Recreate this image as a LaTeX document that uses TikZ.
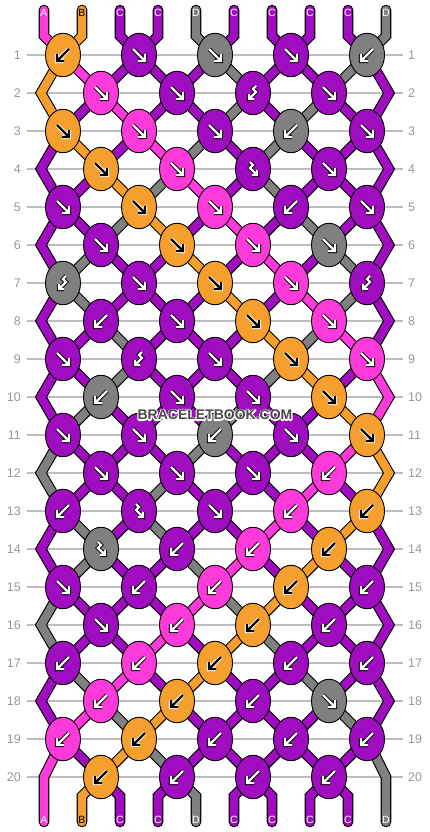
\documentclass[tikz,border=0pt]{standalone}
\usepackage{fontspec}
\setmainfont{Liberation Sans}
\usetikzlibrary{shapes.geometric}
\definecolor{colA}{HTML}{FF3ADB}
\definecolor{colB}{HTML}{F5A02E}
\definecolor{colC}{HTML}{A00CC0}
\definecolor{colD}{HTML}{808080}
\colorlet{arrinA}{white}\colorlet{arroutA}{black}
\colorlet{arrinB}{black}\colorlet{arroutB}{white}
\colorlet{arrinC}{white}\colorlet{arroutC}{black}
\colorlet{arrinD}{white}\colorlet{arroutD}{black}
\colorlet{lblA}{white}\colorlet{lblB}{black}\colorlet{lblC}{white}\colorlet{lblD}{white}
\definecolor{gridgray}{HTML}{BEBEBE}
\definecolor{numgray}{HTML}{999999}
\definecolor{wmgray}{HTML}{4A4A4A}
\colorlet{ain}{white}\colorlet{aout}{black}
\pgfdeclarelayer{grid}\pgfdeclarelayer{lo}\pgfdeclarelayer{hi}
\pgfsetlayers{grid,lo,hi,main}
\newcommand\seg[3][]{%
  \begin{pgfonlayer}{lo}\draw[strout,#1] #3;\end{pgfonlayer}%
  \begin{pgfonlayer}{hi}\draw[strin,draw=col#2,#1] #3;\end{pgfonlayer}}
\newcommand\arrowpath[2]{%
  \draw[aout, line width=4.2pt, line cap=square, line join=miter] #1 #2;
  \draw[ain, line width=2.4pt, line cap=square, line join=miter] #1 #2;}
\newcommand\halotext[1]{%
  \rlap{\special{pdf:literal direct 1 Tr 2.4 w 1 1 1 RG 1 j}#1\special{pdf:literal direct 0 Tr}}#1}
\tikzset{
  strout/.style={line width=10.6pt, draw=black, line join=miter, miter limit=6},
  strin/.style={line width=8.4pt, line join=miter, miter limit=6},
  knot/.style={ellipse, draw=black, line width=0.9pt, minimum width=35pt, minimum height=43.5pt, inner sep=0pt},
  gridline/.style={draw=gridgray, line width=1.3pt},
  rownum/.style={text=numgray, font=\fontsize{12.5}{14}\selectfont, inner sep=0pt},
  strlabel/.style={font=\fontsize{10.5}{12}\selectfont, inner sep=0pt},
  wmtext/.style={font=\bfseries\fontsize{14}{16}\selectfont, inner sep=0pt},
  pics/af/.style={code={\arrowpath{(-6,-6) -- (5,5)}{(6,-1) -- (6,6) -- (-1,6)}}},
  pics/ab/.style={code={\arrowpath{(6,-6) -- (-5,5)}{(-6,-1) -- (-6,6) -- (1,6)}}},
  pics/afb/.style={code={\arrowpath{(-3,-7) -- (0,-4) -- (-3,-1) -- (3,5)}{(4,1) -- (4,6) -- (-1,6)}}},
  pics/abf/.style={code={\arrowpath{(3,-7) -- (0,-4) -- (3,-1) -- (-3,5)}{(-4,1) -- (-4,6) -- (1,6)}}},
}
\begin{document}
\begin{tikzpicture}[x=1pt,y=-1pt]
\useasboundingbox (0,0) rectangle (430,832);
\begin{pgfonlayer}{grid}
  \fill[white] (0,0) rectangle (430,832);
  \foreach \rw in {1,...,20}{
    \pgfmathsetmacro\yy{55+38*(\rw-1)}
    \draw[gridline] (27,\yy) -- (403,\yy);
    \node[rownum, anchor=east] (nl\rw) at (21,\yy) {\rw};
    \node[rownum, anchor=west] (nr\rw) at (408,\yy) {\rw};
  }
\end{pgfonlayer}
% knots
\foreach \rw/\ks in {
  1/{b/B,f/C,f/D,f/C,b/D},
  2/{f/A,f/C,bf/C,f/C},
  3/{f/B,f/A,f/C,b/D,f/C},
  4/{f/B,f/A,fb/C,f/C},
  5/{f/C,f/B,f/A,b/C,f/C},
  6/{f/C,f/B,f/A,f/D},
  7/{bf/D,f/C,f/B,f/A,bf/C},
  8/{b/C,f/C,f/B,f/A},
  9/{f/C,bf/C,f/C,f/B,f/A},
  10/{b/D,f/C,f/C,f/B},
  11/{f/C,f/C,b/D,f/C,f/B},
  12/{f/C,f/C,f/C,b/A},
  13/{b/C,fb/C,f/C,b/A,b/B},
  14/{fb/D,b/C,b/A,b/B},
  15/{f/C,b/C,b/A,b/B,b/C},
  16/{f/C,b/A,b/B,b/C},
  17/{b/C,b/A,b/B,b/C,b/C},
  18/{b/A,b/B,b/C,f/D},
  19/{b/A,b/B,b/C,b/C,b/C},
  20/{b/B,b/C,b/C,b/C}}{
  \pgfmathtruncatemacro\odd{mod(\rw,2)}
  \pgfmathsetmacro\yy{55+38*(\rw-1)}
  \foreach [count=\kk from 0] \tp/\cl in \ks {
    \pgfmathsetmacro\xx{101-38*\odd+76*\kk}
    \node[knot, fill=col\cl] (k\rw-\kk) at (\xx,\yy) {};
    \colorlet{ain}{arrin\cl}\colorlet{aout}{arrout\cl}
    \pic at (k\rw-\kk.center) {a\tp};
  }
}
% edge coordinates
\foreach \rw in {2,4,...,18}{
  \coordinate (L\rw) at (41,{55+38*(\rw-1)});
  \coordinate (R\rw) at (389,{55+38*(\rw-1)});
}
% inner segments
\foreach \rw/\ss in {
  1/{B,A,C,C,C,D,C,C,D,C},
  2/{B,C,A,C,C,D,C,D,C,C},
  3/{C,B,C,A,D,C,D,C,C,C},
  4/{C,C,B,D,A,C,D,C,C,C},
  5/{C,C,D,B,C,A,C,D,C,C},
  6/{C,D,C,C,B,C,A,C,D,C},
  7/{C,D,C,C,C,B,C,A,D,C},
  8/{C,C,D,C,C,C,B,D,A,C},
  9/{C,C,D,C,C,C,D,B,C,A},
  10/{C,D,C,C,C,D,C,C,B,A},
  11/{D,C,C,C,D,C,C,C,A,B},
  12/{D,C,C,D,C,C,C,A,C,B},
  13/{C,D,C,D,C,C,A,C,B,C},
  14/{C,D,C,C,D,A,C,B,C,C},
  15/{D,C,C,C,A,D,B,C,C,C},
  16/{D,C,C,A,C,B,D,C,C,C},
  17/{C,D,A,C,B,C,C,D,C,C},
  18/{C,A,D,B,C,C,C,C,D,C},
  19/{A,C,B,D,C,C,C,C,C,D}}{
  \pgfmathtruncatemacro\odd{mod(\rw,2)}
  \pgfmathtruncatemacro\nx{\rw+1}
  \foreach [count=\ps from 0] \cl in \ss {
    \ifnum\ps>0 \ifnum\ps<9
      \ifnum\odd=1
        \pgfmathtruncatemacro\ia{floor(\ps/2)}\pgfmathtruncatemacro\ib{floor((\ps-1)/2)}
      \else
        \pgfmathtruncatemacro\ia{floor((\ps-1)/2)}\pgfmathtruncatemacro\ib{floor(\ps/2)}
      \fi
      \seg{\cl}{(k\rw-\ia.center) -- (k\nx-\ib.center)}
    \fi\fi
  }
}
% edge zigzags
\foreach \rw/\lc/\rc in {2/B/C,4/C/C,6/C/C,8/C/C,10/C/A,12/D/B,14/C/C,16/D/C,18/C/C}{
  \pgfmathtruncatemacro\pr{\rw-1}
  \pgfmathtruncatemacro\nx{\rw+1}
  \seg{\lc}{(k\pr-0.center) -- (L\rw) -- (k\nx-0.center)}
  \seg{\rc}{(k\pr-4.center) -- (R\rw) -- (k\nx-4.center)}
}
% top and bottom strings with labels
\foreach [count=\ps from 0] \cl in {A,B,C,C,D,C,C,C,C,D}{
  \pgfmathsetmacro\xx{44+38*\ps}
  \pgfmathtruncatemacro\kk{floor(\ps/2)}
  \coordinate (st\ps) at (\xx,10);
  \coordinate (sb\ps) at (\xx,36);
  \seg[line cap=round]{\cl}{(st\ps) -- (sb\ps) -- (k1-\kk.center)}
  \node[strlabel, text=lbl\cl] (lt\ps) at (\xx,13) {\cl};
  \coordinate (be\ps) at (\xx,822);
  \ifnum\ps=0
    \coordinate (bb\ps) at (\xx,777);
    \seg[line cap=round]{\cl}{(k19-0.center) -- (bb\ps) -- (be\ps)}
  \else\ifnum\ps=9
    \coordinate (bb\ps) at (\xx,777);
    \seg[line cap=round]{\cl}{(k19-4.center) -- (bb\ps) -- (be\ps)}
  \else
    \pgfmathtruncatemacro\kb{floor((\ps-1)/2)}
    \coordinate (bb\ps) at (\xx,796);
    \seg[line cap=round]{\cl}{(k20-\kb.center) -- (bb\ps) -- (be\ps)}
  \fi\fi
  \node[strlabel, text=lbl\cl] (lb\ps) at (\xx,820) {\cl};
}
% watermark
\node[wmtext, text=wmgray] (wm) at (215,415) {\halotext{BRACELETBOOK.COM}};
\end{tikzpicture}
\end{document}
